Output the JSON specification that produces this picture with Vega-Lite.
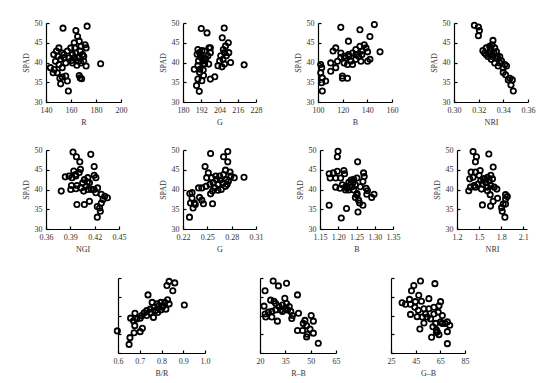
{
"$schema":"https://vega.github.io/schema/vega-lite/v6.json",
"padding":{"left":22,"top":18,"right":5,"bottom":5},
"background":"white",
"datasets":{
"p1":[{"x":153.6,"y":48.7},{"x":172.9,"y":49.2},{"x":163.9,"y":48.1},{"x":165.3,"y":46.6},{"x":166.6,"y":45.4},{"x":171.3,"y":44.5},{"x":172.1,"y":43.7},{"x":150.3,"y":43.7},{"x":148.4,"y":42.9},{"x":153,"y":42.4},{"x":157.1,"y":42.9},{"x":159.8,"y":43.7},{"x":163.1,"y":43.7},{"x":161.2,"y":42},{"x":163.9,"y":42.4},{"x":167.4,"y":42.9},{"x":169.3,"y":42},{"x":165.3,"y":41.2},{"x":158.5,"y":41.2},{"x":154.4,"y":41.2},{"x":151.7,"y":40.8},{"x":147.6,"y":40.3},{"x":143.5,"y":38.7},{"x":146.6,"y":38.2},{"x":149,"y":37.4},{"x":153,"y":38.7},{"x":150.3,"y":39.5},{"x":151.1,"y":36},{"x":153,"y":36.3},{"x":157.1,"y":35.3},{"x":151.7,"y":34.6},{"x":157.9,"y":32.8},{"x":166.6,"y":36.7},{"x":167.4,"y":36.1},{"x":168.5,"y":35.9},{"x":172.1,"y":39.1},{"x":170.2,"y":40.3},{"x":168,"y":39.9},{"x":164.7,"y":39.3},{"x":161.2,"y":39.9},{"x":160.4,"y":40.5},{"x":166.6,"y":41.6},{"x":170.2,"y":41.6},{"x":183.7,"y":39.7},{"x":155.8,"y":39.9},{"x":154.4,"y":42},{"x":146.2,"y":42},{"x":149.5,"y":41.6},{"x":162.6,"y":45},{"x":168,"y":44.1},{"x":162.6,"y":41.2},{"x":165.9,"y":40.3},{"x":145.7,"y":37.4},{"x":155.8,"y":36.6}],
"p2":[{"x":192,"y":48.6},{"x":195.8,"y":47.5},{"x":207.1,"y":48.75},{"x":205.8,"y":46.25},{"x":208,"y":44.2},{"x":209.8,"y":45},{"x":206.5,"y":43.3},{"x":210.1,"y":42.5},{"x":208.5,"y":41.7},{"x":206.3,"y":40.8},{"x":204.1,"y":40.4},{"x":203,"y":39.2},{"x":205.6,"y":38.9},{"x":207.3,"y":39.6},{"x":211.3,"y":40},{"x":220.2,"y":39.4},{"x":189.8,"y":43.3},{"x":190.9,"y":42.5},{"x":189.3,"y":42.1},{"x":194.2,"y":42.9},{"x":197.1,"y":43.75},{"x":198,"y":42.5},{"x":196.4,"y":41.7},{"x":192,"y":41.25},{"x":190.2,"y":40.4},{"x":193.1,"y":40.4},{"x":194.2,"y":39.6},{"x":196.9,"y":39.6},{"x":187.4,"y":38.3},{"x":191.1,"y":38.3},{"x":193.3,"y":38.1},{"x":190.9,"y":37.5},{"x":189.8,"y":35.8},{"x":192.4,"y":35.4},{"x":193.5,"y":36.7},{"x":198,"y":35.8},{"x":200.9,"y":36.4},{"x":188.9,"y":34.2},{"x":190.7,"y":32.7},{"x":189.8,"y":39.2},{"x":191.6,"y":42.1},{"x":194.2,"y":40.8},{"x":204.8,"y":41.7},{"x":207.3,"y":42.5},{"x":198,"y":43.75},{"x":193.3,"y":39.6},{"x":192.5,"y":43},{"x":191.5,"y":41.8},{"x":195,"y":41}],
"p3":[{"x":118.5,"y":48.9},{"x":134,"y":48.3},{"x":145.7,"y":49.6},{"x":142.1,"y":46.6},{"x":124.7,"y":45.4},{"x":114.4,"y":43.7},{"x":112.2,"y":42.9},{"x":134,"y":44.1},{"x":137.5,"y":44.5},{"x":138.9,"y":43.7},{"x":136.1,"y":42.9},{"x":130.7,"y":43.3},{"x":128,"y":42.4},{"x":124.7,"y":42},{"x":121.2,"y":41.6},{"x":118.5,"y":41.3},{"x":115.8,"y":40.3},{"x":110.3,"y":39.9},{"x":121.2,"y":39.9},{"x":126.6,"y":40.3},{"x":130.7,"y":40.8},{"x":134.8,"y":40.3},{"x":140.2,"y":40.3},{"x":142.1,"y":40.8},{"x":150.3,"y":42.7},{"x":140.2,"y":42.7},{"x":128,"y":39.5},{"x":122.5,"y":41.2},{"x":114.4,"y":38.7},{"x":110.3,"y":37.8},{"x":103,"y":38.7},{"x":102.2,"y":37.4},{"x":103.5,"y":36.1},{"x":106.2,"y":35.3},{"x":102.9,"y":34.9},{"x":103.5,"y":32.8},{"x":119.8,"y":36.6},{"x":123.9,"y":36},{"x":119.8,"y":36},{"x":102.2,"y":39.5},{"x":123.9,"y":39.5},{"x":132.9,"y":41.6},{"x":135.6,"y":42},{"x":118.5,"y":42.4},{"x":125.2,"y":41.6},{"x":130.7,"y":42}],
"p4":[{"x":0.3165,"y":49.4},{"x":0.3198,"y":49},{"x":0.3206,"y":48.1},{"x":0.3198,"y":46.8},{"x":0.3234,"y":43},{"x":0.3261,"y":43.7},{"x":0.3289,"y":44.1},{"x":0.3316,"y":45.6},{"x":0.3308,"y":44.5},{"x":0.3297,"y":43},{"x":0.333,"y":43.7},{"x":0.3281,"y":42.4},{"x":0.3316,"y":41.9},{"x":0.3344,"y":42.8},{"x":0.3352,"y":41.5},{"x":0.3302,"y":40.8},{"x":0.333,"y":39.9},{"x":0.3371,"y":39.9},{"x":0.3413,"y":39.5},{"x":0.3385,"y":40.4},{"x":0.3427,"y":39.1},{"x":0.3358,"y":39.1},{"x":0.3399,"y":37.5},{"x":0.3418,"y":36.9},{"x":0.3454,"y":36},{"x":0.3473,"y":35.6},{"x":0.3462,"y":34.3},{"x":0.3481,"y":32.8},{"x":0.3275,"y":41.5},{"x":0.3248,"y":42.4},{"x":0.3325,"y":42.4},{"x":0.3344,"y":41.1},{"x":0.3371,"y":41.5},{"x":0.3399,"y":38.6},{"x":0.3297,"y":43.7},{"x":0.3308,"y":41.5},{"x":0.344,"y":35.6},{"x":0.3261,"y":42}],
"p5":[{"x":0.3933,"y":49.5},{"x":0.3975,"y":48.3},{"x":0.4017,"y":47},{"x":0.4152,"y":48.9},{"x":0.4194,"y":45.8},{"x":0.4025,"y":45.1},{"x":0.3942,"y":44.7},{"x":0.3963,"y":43.8},{"x":0.3921,"y":43},{"x":0.3837,"y":43.2},{"x":0.3968,"y":43.4},{"x":0.401,"y":44.3},{"x":0.4073,"y":42.5},{"x":0.4115,"y":43},{"x":0.4136,"y":41.7},{"x":0.4094,"y":40.8},{"x":0.4052,"y":41.7},{"x":0.4031,"y":40.4},{"x":0.3981,"y":41},{"x":0.3914,"y":41},{"x":0.3905,"y":40},{"x":0.3968,"y":40.2},{"x":0.3788,"y":39.6},{"x":0.4194,"y":43.6},{"x":0.4215,"y":43},{"x":0.4236,"y":40.4},{"x":0.4215,"y":39.2},{"x":0.4282,"y":38.8},{"x":0.4324,"y":38.3},{"x":0.4357,"y":37.9},{"x":0.4303,"y":37.5},{"x":0.4282,"y":36.6},{"x":0.4261,"y":35.3},{"x":0.4232,"y":35.7},{"x":0.427,"y":34.5},{"x":0.4232,"y":33},{"x":0.3981,"y":36.2},{"x":0.4073,"y":36.2},{"x":0.4136,"y":37},{"x":0.4157,"y":40},{"x":0.4194,"y":40},{"x":0.4064,"y":39.6},{"x":0.4115,"y":40},{"x":0.3884,"y":43.4},{"x":0.411,"y":41.9}],
"p6":[{"x":0.254,"y":49.1},{"x":0.2752,"y":49.6},{"x":0.27,"y":48.3},{"x":0.2752,"y":47},{"x":0.2472,"y":45.8},{"x":0.2952,"y":43.1},{"x":0.2832,"y":43},{"x":0.278,"y":44.4},{"x":0.2724,"y":44.9},{"x":0.27,"y":43.8},{"x":0.2512,"y":44.2},{"x":0.2492,"y":43},{"x":0.2552,"y":43},{"x":0.2612,"y":42.5},{"x":0.2652,"y":43.4},{"x":0.2732,"y":42.5},{"x":0.2792,"y":43.4},{"x":0.2572,"y":41.7},{"x":0.2632,"y":41.3},{"x":0.2692,"y":41.7},{"x":0.2744,"y":41.3},{"x":0.2532,"y":41.3},{"x":0.2484,"y":40.8},{"x":0.2432,"y":40.4},{"x":0.2392,"y":40.4},{"x":0.2592,"y":40.4},{"x":0.2672,"y":40},{"x":0.2724,"y":40.8},{"x":0.2564,"y":39.6},{"x":0.2632,"y":39.8},{"x":0.254,"y":38.9},{"x":0.2284,"y":39},{"x":0.2312,"y":39.2},{"x":0.2404,"y":38},{"x":0.2432,"y":37.3},{"x":0.2452,"y":36.4},{"x":0.2564,"y":36.4},{"x":0.234,"y":36.6},{"x":0.2292,"y":36.6},{"x":0.2312,"y":37.8},{"x":0.2324,"y":35.3},{"x":0.2352,"y":36.2},{"x":0.228,"y":33},{"x":0.2604,"y":43.4},{"x":0.266,"y":42.4},{"x":0.276,"y":42.1}],
"p7":[{"x":1.1993,"y":49.7},{"x":1.1975,"y":48.3},{"x":1.2531,"y":47},{"x":1.1751,"y":44},{"x":1.1867,"y":44.2},{"x":1.1975,"y":44.6},{"x":1.2155,"y":44.8},{"x":1.2173,"y":44},{"x":1.1778,"y":42.9},{"x":1.193,"y":42.9},{"x":1.2065,"y":42.9},{"x":1.193,"y":40.6},{"x":1.2047,"y":40.3},{"x":1.22,"y":40.7},{"x":1.2334,"y":41.2},{"x":1.2424,"y":42.6},{"x":1.2514,"y":42.9},{"x":1.2352,"y":42.4},{"x":1.2289,"y":41.8},{"x":1.2245,"y":40.3},{"x":1.2379,"y":40.7},{"x":1.2469,"y":41.2},{"x":1.2289,"y":39.9},{"x":1.2424,"y":39.9},{"x":1.2514,"y":39},{"x":1.2469,"y":38},{"x":1.2558,"y":37.3},{"x":1.2514,"y":38.6},{"x":1.2693,"y":44.2},{"x":1.2711,"y":43.3},{"x":1.2675,"y":42},{"x":1.2765,"y":40.3},{"x":1.28,"y":39.7},{"x":1.2782,"y":38.8},{"x":1.2917,"y":38},{"x":1.298,"y":38.8},{"x":1.2675,"y":36},{"x":1.2585,"y":36.6},{"x":1.1751,"y":36},{"x":1.2227,"y":35.2},{"x":1.2541,"y":34.3},{"x":1.2083,"y":32.8},{"x":1.22,"y":39.9},{"x":1.211,"y":41.2},{"x":1.2603,"y":40.7},{"x":1.2406,"y":41.8}],
"p8":[{"x":1.418,"y":49.6},{"x":1.464,"y":48.3},{"x":1.45,"y":47},{"x":1.632,"y":49},{"x":1.691,"y":45.7},{"x":1.45,"y":44.4},{"x":1.391,"y":44.4},{"x":1.373,"y":42.7},{"x":1.418,"y":43.1},{"x":1.514,"y":44.8},{"x":1.5,"y":43.6},{"x":1.559,"y":42.7},{"x":1.614,"y":43.1},{"x":1.659,"y":43.6},{"x":1.682,"y":42.7},{"x":1.636,"y":42.3},{"x":1.591,"y":41.8},{"x":1.545,"y":41.4},{"x":1.486,"y":41.4},{"x":1.432,"y":41},{"x":1.359,"y":39.7},{"x":1.382,"y":40.6},{"x":1.45,"y":40.6},{"x":1.532,"y":40.1},{"x":1.614,"y":40.6},{"x":1.659,"y":41},{"x":1.705,"y":40.6},{"x":1.741,"y":40.1},{"x":1.614,"y":39.7},{"x":1.65,"y":38.7},{"x":1.75,"y":37.8},{"x":1.691,"y":37},{"x":1.655,"y":35.8},{"x":1.545,"y":36.1},{"x":1.859,"y":38.7},{"x":1.882,"y":38.2},{"x":1.859,"y":37.6},{"x":1.827,"y":36.3},{"x":1.805,"y":35.4},{"x":1.814,"y":34.5},{"x":1.859,"y":36.3},{"x":1.85,"y":33},{"x":1.577,"y":42.7},{"x":1.523,"y":42.3}],
"p9":[{"x":0.835,"y":49.1},{"x":0.861,"y":48.7},{"x":0.825,"y":48},{"x":0.852,"y":46.6},{"x":0.738,"y":45.5},{"x":0.905,"y":42.8},{"x":0.828,"y":44.2},{"x":0.815,"y":43.5},{"x":0.797,"y":43.5},{"x":0.78,"y":43.1},{"x":0.757,"y":43.5},{"x":0.803,"y":42.2},{"x":0.788,"y":42.6},{"x":0.766,"y":42.2},{"x":0.748,"y":41.7},{"x":0.771,"y":41.3},{"x":0.797,"y":41.5},{"x":0.82,"y":41.7},{"x":0.835,"y":43.1},{"x":0.732,"y":41.3},{"x":0.72,"y":40.7},{"x":0.709,"y":40},{"x":0.702,"y":39.3},{"x":0.678,"y":40.6},{"x":0.658,"y":39.3},{"x":0.671,"y":38.6},{"x":0.686,"y":39.1},{"x":0.677,"y":37.3},{"x":0.712,"y":36.6},{"x":0.702,"y":35.7},{"x":0.674,"y":35.4},{"x":0.655,"y":34.1},{"x":0.651,"y":32.3},{"x":0.597,"y":35.9},{"x":0.763,"y":39.5},{"x":0.782,"y":40.8},{"x":0.748,"y":40.8},{"x":0.809,"y":42.6},{"x":0.732,"y":40}],
"p10":[{"x":27.8,"y":49.2},{"x":35.7,"y":48.6},{"x":30.9,"y":47.9},{"x":23,"y":46.6},{"x":42.2,"y":45.5},{"x":34.7,"y":44.6},{"x":22.4,"y":42.5},{"x":26.3,"y":44.1},{"x":28.3,"y":43.8},{"x":29.3,"y":43.2},{"x":31.3,"y":42.4},{"x":33.3,"y":42.8},{"x":35.7,"y":43.2},{"x":37.3,"y":42.4},{"x":34.9,"y":41.9},{"x":32.3,"y":41.5},{"x":29.3,"y":41.5},{"x":27,"y":41.1},{"x":25,"y":40.9},{"x":23,"y":40.4},{"x":23.4,"y":39.6},{"x":27,"y":39.6},{"x":30.3,"y":38.5},{"x":38.2,"y":41.1},{"x":39.2,"y":40},{"x":38.8,"y":39.2},{"x":42.8,"y":40.6},{"x":50.3,"y":40},{"x":51.6,"y":38.5},{"x":46.6,"y":38.7},{"x":45.6,"y":37.9},{"x":47.6,"y":37.3},{"x":49.6,"y":36.4},{"x":45.2,"y":36},{"x":48,"y":35},{"x":51.6,"y":35.3},{"x":47.6,"y":34.3},{"x":54.5,"y":32.6},{"x":42.2,"y":36},{"x":36.3,"y":41.5},{"x":33.3,"y":41.1}],
"p11":[{"x":48.9,"y":49.2},{"x":43.5,"y":48},{"x":41.6,"y":46.6},{"x":60.6,"y":48.5},{"x":47.5,"y":45.4},{"x":55.7,"y":44.5},{"x":40,"y":44.3},{"x":34,"y":43.4},{"x":36.7,"y":43},{"x":40.8,"y":43},{"x":44.8,"y":43.7},{"x":49.7,"y":43.8},{"x":65.2,"y":43.7},{"x":63.9,"y":42.6},{"x":59.8,"y":42.2},{"x":55.7,"y":41.8},{"x":51.7,"y":41.8},{"x":47.1,"y":41.4},{"x":44.3,"y":42.2},{"x":40.8,"y":40.3},{"x":46.2,"y":39.7},{"x":53,"y":40.4},{"x":54.3,"y":39.6},{"x":57.1,"y":39.1},{"x":59.8,"y":40.4},{"x":63.3,"y":40.9},{"x":66.6,"y":40},{"x":65.2,"y":38.3},{"x":70.7,"y":38.3},{"x":72.6,"y":37.4},{"x":68.8,"y":37.9},{"x":61.2,"y":37.9},{"x":59,"y":37},{"x":61.8,"y":36.2},{"x":62.5,"y":35.7},{"x":63.9,"y":34.9},{"x":70.7,"y":35.7},{"x":57.9,"y":34.2},{"x":48.4,"y":36.4},{"x":70.7,"y":32.5},{"x":50.3,"y":39.6},{"x":66.6,"y":37.9},{"x":51.7,"y":38},{"x":61.8,"y":35.5}]
},
"vconcat":[
{"vconcat":[
{"hconcat":[
{"width":75,"height":79,"data":{"name":"p1"},"mark":"point","encoding":{"x":{"field":"x","type":"quantitative","scale":{"domain":[140,200],"nice":false,"zero":false},"axis":{"values":[140,160,180,200],"title":"R"}},"y":{"field":"y","type":"quantitative","scale":{"domain":[30,50],"nice":false,"zero":false},"axis":{"values":[30,35,40,45,50],"title":"SPAD"}}}},
{"width":73,"height":79,"data":{"name":"p2"},"mark":"point","encoding":{"x":{"field":"x","type":"quantitative","scale":{"domain":[180,228],"nice":false,"zero":false},"axis":{"values":[180,192,204,216,228],"title":"G"}},"y":{"field":"y","type":"quantitative","scale":{"domain":[30,50],"nice":false,"zero":false},"axis":{"values":[30,35,40,45,50],"title":"SPAD"}}}},
{"width":74,"height":79,"data":{"name":"p3"},"mark":"point","encoding":{"x":{"field":"x","type":"quantitative","scale":{"domain":[100,160],"nice":false,"zero":false},"axis":{"values":[100,120,140,160],"title":"B"}},"y":{"field":"y","type":"quantitative","scale":{"domain":[30,50],"nice":false,"zero":false},"axis":{"values":[30,35,40,45,50],"title":"SPAD"}}}},
{"width":74,"height":79,"data":{"name":"p4"},"mark":"point","encoding":{"x":{"field":"x","type":"quantitative","scale":{"domain":[0.3,0.36],"nice":false,"zero":false},"axis":{"values":[0.3,0.32,0.34,0.36],"format":".2f","title":"NRI"}},"y":{"field":"y","type":"quantitative","scale":{"domain":[30,50],"nice":false,"zero":false},"axis":{"values":[30,35,40,45,50],"title":"SPAD"}}}}
],"spacing":62,"bounds":"flush"},
{"hconcat":[
{"width":73,"height":79,"data":{"name":"p5"},"mark":"point","encoding":{"x":{"field":"x","type":"quantitative","scale":{"domain":[0.36,0.45],"nice":false,"zero":false},"axis":{"values":[0.36,0.39,0.42,0.45],"format":".2f","title":"NGI"}},"y":{"field":"y","type":"quantitative","scale":{"domain":[30,50],"nice":false,"zero":false},"axis":{"values":[30,35,40,45,50],"title":"SPAD"}}}},
{"width":73,"height":79,"data":{"name":"p6"},"mark":"point","encoding":{"x":{"field":"x","type":"quantitative","scale":{"domain":[0.22,0.31],"nice":false,"zero":false},"axis":{"values":[0.22,0.25,0.28,0.31],"format":".2f","title":"G"}},"y":{"field":"y","type":"quantitative","scale":{"domain":[30,50],"nice":false,"zero":false},"axis":{"values":[30,35,40,45,50],"title":"SPAD"}}}},
{"width":73,"height":79,"data":{"name":"p7"},"mark":"point","encoding":{"x":{"field":"x","type":"quantitative","scale":{"domain":[1.15,1.35],"nice":false,"zero":false},"axis":{"values":[1.15,1.2,1.25,1.3,1.35],"format":".2f","title":"B"}},"y":{"field":"y","type":"quantitative","scale":{"domain":[30,50],"nice":false,"zero":false},"axis":{"values":[30,35,40,45,50],"title":"SPAD"}}}},
{"width":70,"height":79,"data":{"name":"p8"},"mark":"point","encoding":{"x":{"field":"x","type":"quantitative","scale":{"domain":[1.2,2.15],"nice":false,"zero":false},"axis":{"values":[1.2,1.5,1.8,2.1],"format":".1f","title":"NRI"}},"y":{"field":"y","type":"quantitative","scale":{"domain":[30,50],"nice":false,"zero":false},"axis":{"values":[30,35,40,45,50],"title":"SPAD"}}}}
],"spacing":64,"bounds":"flush"}
],"spacing":18},
{"hconcat":[
{"width":17,"height":75,"data":{"values":[{"x":0}]},"mark":{"type":"point","opacity":0},"encoding":{}},
{"width":87,"height":75,"data":{"name":"p9"},"mark":"point","encoding":{"x":{"field":"x","type":"quantitative","scale":{"domain":[0.6,1.0],"nice":false,"zero":false},"axis":{"values":[0.6,0.7,0.8,0.9,1.0],"format":".1f","title":"B/R"}},"y":{"field":"y","type":"quantitative","scale":{"domain":[30,50],"nice":false,"zero":false},"axis":{"values":[30,35,40,45,50],"labels":false,"title":null}}}},
{"width":76,"height":75,"data":{"name":"p10"},"mark":"point","encoding":{"x":{"field":"x","type":"quantitative","scale":{"domain":[20,65],"nice":false,"zero":false},"axis":{"values":[20,35,50,65],"title":"R–B"}},"y":{"field":"y","type":"quantitative","scale":{"domain":[30,50],"nice":false,"zero":false},"axis":{"values":[30,35,40,45,50],"labels":false,"title":null}}}},
{"width":74,"height":75,"data":{"name":"p11"},"mark":"point","encoding":{"x":{"field":"x","type":"quantitative","scale":{"domain":[25,85],"nice":false,"zero":false},"axis":{"values":[25,45,65,85],"title":"G–B"}},"y":{"field":"y","type":"quantitative","scale":{"domain":[30,50],"nice":false,"zero":false},"axis":{"values":[30,35,40,45,50],"labels":false,"title":null}}}}
],"spacing":55,"bounds":"flush"}
],
"spacing":21,
"config":{
"view":{"stroke":null},
"point":{"shape":"circle","filled":false,"stroke":"black","strokeWidth":1.8,"size":28,"opacity":1},
"axis":{"grid":false,"domainColor":"black","domainWidth":1.2,"tickColor":"black","tickWidth":1.2,"tickSize":-3,"labelFont":"Liberation Serif","titleFont":"Liberation Serif","labelFontSize":8,"titleFontSize":8,"titleFontWeight":"normal","labelColor":"#333","titleColor":"#333","labelPadding":7,"titlePadding":4,"labelFlush":false,"labelOverlap":false}
}
}
